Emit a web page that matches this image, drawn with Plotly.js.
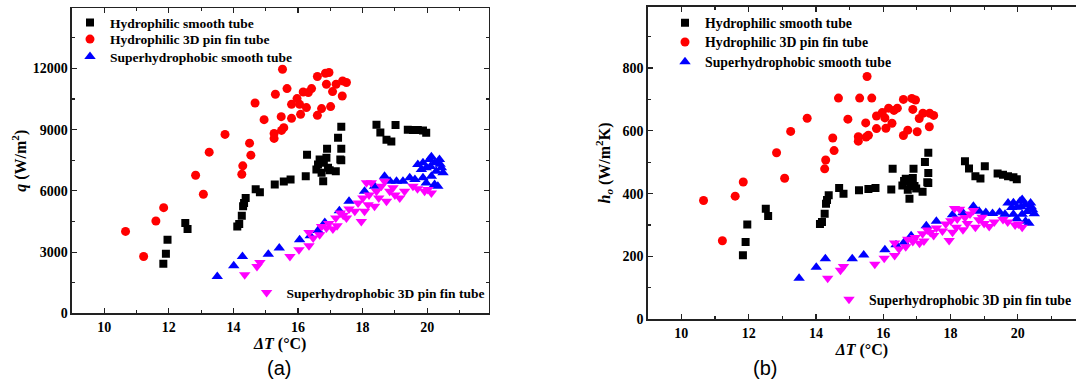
<!DOCTYPE html>
<html>
<head>
<meta charset="utf-8">
<script src="https://cdn.plot.ly/plotly-3.0.1.min.js"></script>
<style>
html,body{margin:0;padding:0;background:#fff;overflow:hidden;}
#chart{width:1077px;height:382px;}
</style>
</head>
<body>
<div id="chart"></div>
<script>
// ---------- Data (ΔT in °C, q in W/m², h_o in W/m²K) ----------
const seriesNames = [
  "Hydrophilic smooth tube",
  "Hydrophilic 3D pin fin tube",
  "Superhydrophobic smooth tube",
  "Superhydrophobic 3D pin fin tube"
];

// Hydrophilic smooth tube
const hsT = [11.83, 11.91, 11.96, 12.51, 12.58, 14.12, 14.18, 14.26, 14.30, 14.33, 14.38, 14.69, 14.82, 15.28, 15.56, 15.77, 16.24, 16.28, 16.57, 16.62, 16.67, 16.73, 16.78, 16.80, 16.88, 16.90, 16.93, 16.98, 17.17, 17.24, 17.31, 17.34, 17.34, 17.34, 18.43, 18.55, 18.74, 18.89, 19.02, 19.40, 19.56, 19.71, 19.87, 19.97];
const hsQ = [2425, 2916, 3605, 4426, 4131, 4259, 4377, 4785, 5243, 5410, 5656, 6080, 5931, 6310, 6457, 6556, 6718, 7770, 7050, 7293, 7540, 6885, 6473, 7376, 7622, 8060, 7130, 7015, 6965, 8600, 7540, 9150, 8060, 7505, 9245, 8867, 8508, 8425, 9226, 9000, 8980, 8980, 8965, 8852];
const hsH = [204, 246, 302, 352, 329, 303, 310, 336, 368, 380, 395, 418, 400, 411, 415, 418, 413, 479, 426, 440, 447, 412, 384, 437, 450, 479, 424, 416, 406, 501, 436, 530, 466, 434, 503, 480, 455, 448, 487, 464, 460, 455, 452, 446];

// Hydrophilic 3D pin fin tube
const hpT = [10.66, 11.22, 11.60, 11.84, 12.83, 13.07, 13.25, 13.74, 14.26, 14.29, 14.50, 14.54, 14.67, 14.95, 15.26, 15.26, 15.30, 15.48, 15.49, 15.52, 15.56, 15.66, 15.80, 15.80, 15.97, 16.05, 16.08, 16.16, 16.26, 16.32, 16.42, 16.60, 16.60, 16.73, 16.85, 16.88, 16.96, 17.01, 17.07, 17.18, 17.37, 17.38, 17.50];
const hpQ = [4013, 2784, 4525, 5179, 6767, 5833, 7898, 8769, 6816, 7229, 8341, 7751, 10308, 9492, 8818, 8572, 10736, 9639, 8966, 11965, 9098, 11016, 9556, 10244, 10525, 10244, 9752, 10849, 10082, 10820, 11016, 11606, 9703, 10033, 11769, 11228, 11803, 10131, 10869, 11228, 10653, 11390, 11311];
const hpH = [378, 250, 392, 437, 530, 449, 598, 640, 479, 507, 577, 537, 704, 637, 581, 567, 704, 625, 580, 773, 586, 704, 607, 647, 658, 641, 608, 672, 624, 665, 672, 700, 585, 602, 703, 668, 698, 597, 639, 656, 613, 656, 649];

// Superhydrophobic smooth tube
const ssT = [13.50, 14.01, 14.28, 15.08, 15.42, 16.05, 16.38, 16.62, 16.83, 17.28, 17.58, 18.06, 18.37, 18.68, 18.85, 19.05, 19.25, 19.46, 19.62, 19.87, 19.71, 19.87, 20.07, 20.13, 20.23, 20.38, 20.44, 20.49, 20.28, 20.13, 19.97, 20.23, 20.33, 19.82, 19.97, 20.40, 20.10];
const ssQ = [1800, 2326, 2784, 2900, 3197, 3606, 3800, 4063, 4456, 5031, 5488, 5980, 6230, 6718, 6472, 6472, 6472, 6640, 6556, 6640, 7293, 7376, 7540, 7672, 7376, 7540, 7130, 6885, 6964, 6718, 6390, 6310, 6226, 7048, 7130, 7300, 7200];
const ssH = [131, 166, 193, 193, 205, 221, 237, 245, 266, 298, 312, 333, 339, 360, 344, 340, 337, 341, 334, 334, 370, 371, 376, 381, 365, 370, 349, 336, 343, 334, 320, 312, 306, 356, 357, 358, 358];

// Superhydrophobic 3D pin fin tube
const spT = [14.35, 14.73, 14.82, 15.75, 16.03, 16.34, 16.34, 16.47, 16.67, 16.73, 16.88, 16.95, 17.08, 17.21, 17.17, 17.31, 17.40, 17.50, 17.58, 17.76, 17.86, 17.96, 18.06, 18.17, 18.01, 18.12, 18.20, 18.27, 18.37, 18.43, 18.50, 18.58, 18.74, 18.68, 18.84, 18.94, 19.00, 19.15, 19.30, 19.56, 19.70, 19.92, 20.13, 20.02];
const spQ = [1884, 2292, 2489, 2784, 3113, 3310, 3964, 3688, 3851, 4259, 4180, 4400, 4131, 4293, 4672, 4918, 4800, 4672, 5115, 4997, 5410, 4505, 4997, 5326, 5656, 6394, 5800, 6394, 5243, 5980, 5650, 6226, 5488, 6472, 5980, 6148, 5800, 5656, 5980, 6226, 6100, 5980, 5902, 6063];
const spH = [131, 156, 168, 175, 194, 203, 243, 224, 231, 255, 248, 260, 242, 249, 272, 284, 276, 267, 291, 281, 303, 251, 277, 293, 314, 353, 319, 350, 285, 324, 305, 335, 293, 346, 317, 325, 305, 295, 310, 318, 310, 300, 293, 303];

// ---------- Styles ----------
const SERIF = "Liberation Serif";
const styles = [
  {symbol: "square", color: "#000000", size: 8},
  {symbol: "circle", color: "#ff0000", size: 9},
  {symbol: "triangle-up", color: "#0000ff", size: 10},
  {symbol: "triangle-down", color: "#ff00ff", size: 10}
];
const xs = [hsT, hpT, ssT, spT];
const qs = [hsQ, hpQ, ssQ, spQ];
const hs = [hsH, hpH, ssH, spH];

const W = 1077, H = 382;
// legend entry anchor points (symbol centre, px) for each panel
const legPosA = [[90, 22.7], [90, 39.3], [90, 56.7], [266.6, 292.7]];
const legPosB = [[685, 22.7], [685, 42], [685, 61.7], [850, 299.3]];

const traces = [];
const legends = {};
function addLegend(idx, pos, fsize) {
  const key = idx === 1 ? "legend" : "legend" + idx;
  legends[key] = {
    x: (pos[0] - 20) / W, y: 1 - (pos[1] - 15.5) / H, xanchor: "left", yanchor: "top",
    bgcolor: "rgba(0,0,0,0)", borderwidth: 0, itemwidth: 30,
    font: {family: SERIF, size: fsize, color: "#000", weight: "bold"}
  };
  return key;
}
for (let i = 0; i < 4; i++) {
  traces.push({
    type: "scatter", mode: "markers", name: seriesNames[i],
    x: xs[i], y: qs[i], xaxis: "x", yaxis: "y",
    legend: addLegend(i + 1, legPosA[i], 13.5),
    marker: {symbol: styles[i].symbol, color: styles[i].color, size: styles[i].size, line: {width: 0}}
  });
}
for (let i = 0; i < 4; i++) {
  traces.push({
    type: "scatter", mode: "markers", name: seriesNames[i],
    x: xs[i], y: hs[i], xaxis: "x2", yaxis: "y2",
    legend: addLegend(i + 5, legPosB[i], 13.8),
    marker: {symbol: styles[i].symbol, color: styles[i].color, size: styles[i].size, line: {width: 0}}
  });
}

const tickFont = {family: SERIF, size: 14, color: "#000", weight: "bold"};
const titleFont = {family: SERIF, size: 16, color: "#000", weight: "bold"};
function xAxis(domain, range, anchor, standoff) {
  return {
    domain: domain, range: range, anchor: anchor,
    tick0: 0, dtick: 2, ticks: "inside", ticklen: 5, tickwidth: 1.2, tickcolor: "#222",
    minor: {dtick: 1, ticks: "inside", ticklen: 3, tickwidth: 1.2, tickcolor: "#222"},
    showline: true, linewidth: 1.5, linecolor: "#222", mirror: "ticks",
    showgrid: false, zeroline: false, tickfont: tickFont, tickformat: "d",
    title: {text: "<i>ΔT</i> (°C)", font: titleFont, standoff: standoff}
  };
}
function yAxis(domain, range, dtick, anchor, title, mirror, standoff) {
  return {
    domain: domain, range: range, anchor: anchor,
    tick0: 0, dtick: dtick, ticks: "inside", ticklen: 5, tickwidth: 1.2, tickcolor: "#222",
    minor: {dtick: dtick / 2, ticks: "inside", ticklen: 3, tickwidth: 1.2, tickcolor: "#222"},
    showline: true, linewidth: 1.5, linecolor: "#222", mirror: mirror,
    showgrid: false, zeroline: false, tickfont: tickFont, tickformat: "d",
    title: {text: title, font: titleFont, standoff: standoff}
  };
}

const layout = Object.assign({
  width: W, height: H,
  margin: {l: 0, r: 0, t: 0, b: 0},
  paper_bgcolor: "#fff", plot_bgcolor: "#fff",
  showlegend: true,
  xaxis: xAxis([72 / W, 489 / W], [9, 21.9], "y", 3),
  yaxis: yAxis([1 - 313.3 / H, 1 - 8.3 / H], [0, 14950], 3000, "x", "<i>q</i> (W/m<sup>2</sup>)", "ticks", 2),
  xaxis2: xAxis([648.3 / W, 1], [9, 21.73], "y2", 1),
  yaxis2: yAxis([1 - 319.3 / H, 1 - 6.7 / H], [0, 995], 200, "x2", "<i>h<sub>o</sub></i> (W/m<sup>2</sup>K)", false, 8),
  annotations: [
    {text: "(a)", x: 279 / W, y: 1 - 368 / H, xref: "paper", yref: "paper", xanchor: "center", yanchor: "middle", showarrow: false,
     font: {family: "Liberation Sans", size: 20, color: "#000"}},
    {text: "(b)", x: 766 / W, y: 1 - 368 / H, xref: "paper", yref: "paper", xanchor: "center", yanchor: "middle", showarrow: false,
     font: {family: "Liberation Sans", size: 20, color: "#000"}}
  ]
}, legends);

Plotly.newPlot("chart", traces, layout, {staticPlot: true, displayModeBar: false});
</script>
</body>
</html>
